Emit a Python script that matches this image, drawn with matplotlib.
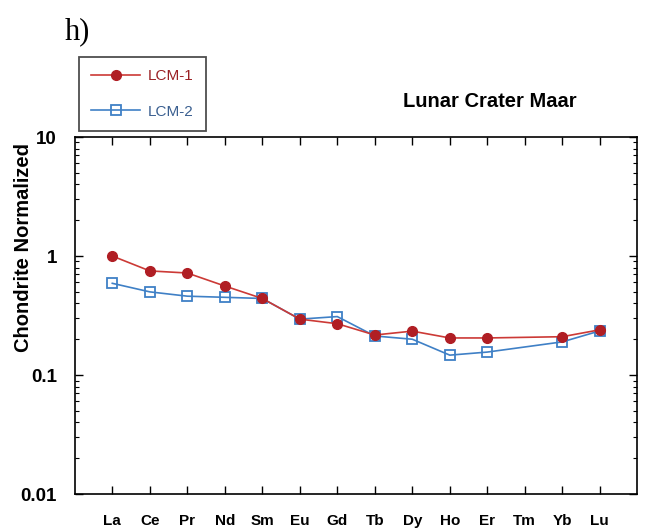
import matplotlib.pyplot as plt
import numpy as np

plt.rcParams['font.family'] = ['Liberation Sans', 'DejaVu Sans']

elements = ['La', 'Ce', 'Pr', 'Nd', 'Sm', 'Eu', 'Gd', 'Tb', 'Dy', 'Ho', 'Er', 'Tm', 'Yb', 'Lu']
lcm1 = [1.0, 0.75, 0.72, 0.56, 0.44, 0.295, 0.27, 0.217, 0.234, 0.205, 0.205, None, 0.21, 0.24]
lcm2 = [0.59, 0.50, 0.46, 0.45, 0.44, 0.295, 0.31, 0.213, 0.20, 0.147, 0.156, None, 0.19, 0.235]

red = '#cc3a36'
dark_red = '#b01e24'
blue = '#3f80c6'

fig = plt.figure(figsize=(6.45, 5.29), dpi=100)
ax = fig.add_axes([0.116, 0.066, 0.872, 0.675])


def pts(vals):
    # Tm has no value; the line runs straight from Er to Yb
    xs = [i for i, v in enumerate(vals) if v is not None]
    ys = [v for v in vals if v is not None]
    return xs, ys


x1, y1 = pts(lcm1)
x2, y2 = pts(lcm2)
h2, = ax.plot(x2, y2, '-', color=blue, lw=1.2, marker='s', ms=7,
              mfc='none', mec=blue, mew=1.3, label='LCM-2', zorder=2)
h1, = ax.plot(x1, y1, '-', color=red, lw=1.2, marker='o', ms=7,
              mfc=dark_red, mec=dark_red, label='LCM-1', zorder=3)

ax.set_yscale('log')
ax.set_ylim(0.01, 10)
ax.set_xlim(-1, 14)
ax.set_xticks(range(len(elements)))
ax.set_xticklabels(elements, fontsize=11, fontweight='bold')
ax.set_yticks([0.01, 0.1, 1, 10])
ax.set_yticklabels(['0.01', '0.1', '1', '10'], fontsize=13.5, fontweight='bold')
ax.tick_params(axis='both', which='major', direction='in', top=True, right=True,
               length=6, width=1)
ax.tick_params(axis='y', which='minor', direction='in', right=True, length=3, width=0.8)
ax.tick_params(axis='x', which='minor', bottom=False, top=False)
ax.tick_params(axis='x', pad=14)
ax.tick_params(axis='y', pad=13)
for s in ax.spines.values():
    s.set_linewidth(1.2)

ax.set_ylabel('Chondrite Normalized', fontsize=14.5, fontweight='bold')
ax.yaxis.set_label_coords(-0.075, 0.69)

leg = fig.legend(handles=[h1, h2], loc='upper left', bbox_to_anchor=(0.1225, 0.892),
                 borderaxespad=0, fontsize=11, frameon=True, fancybox=False,
                 edgecolor='#222222', handlelength=3.2, handletextpad=0.5,
                 labelspacing=1.4, borderpad=0.8)
leg.get_frame().set_linewidth(1.3)
leg.get_texts()[0].set_color('#9a2024')
leg.get_texts()[1].set_color('#3a5f90')

fig.text(0.759, 0.809, 'Lunar Crater Maar', fontsize=14.5, fontweight='bold',
         ha='center', va='center')
fig.text(0.1, 0.925, 'h)', fontsize=22, family='Liberation Serif', ha='left')

fig.savefig('out.png', dpi=100)
